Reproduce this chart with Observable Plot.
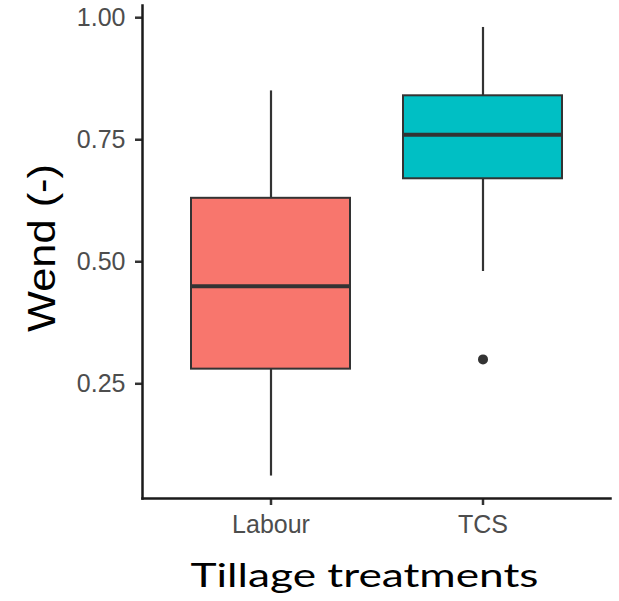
<!DOCTYPE html>
<html>
<head>
<meta charset="utf-8">
<script src="https://cdn.jsdelivr.net/npm/d3@7"></script>
<script src="https://cdn.jsdelivr.net/npm/@observablehq/plot@0.6"></script>
<style>
  html, body { margin: 0; padding: 0; background: white; }
</style>
</head>
<body>
<div id="chart"></div>
<script>
// Data
const categories = ["Labour", "TCS"];
const whiskerLow = [0.061, 0.48];
const q1 = [0.28, 0.67];
const median = [0.45, 0.76];
const q3 = [0.63, 0.84];
const whiskerHigh = [0.85, 0.98];
const boxFills = ["#F8766D", "#00BFC4"];
const outlierCategory = ["TCS"];
const outlierValue = [0.30];
const yTicks = [0.25, 0.50, 0.75, 1.00];
const yTitle = "Wend (-)";
const xTitle = "Tillage treatments";

const stats = categories.map((c, i) => ({
  cat: c, lo: whiskerLow[i], q1: q1[i], med: median[i], q3: q3[i], hi: whiskerHigh[i]
}));
const outliers = outlierCategory.map((c, i) => ({cat: c, value: outlierValue[i]}));

const boxStroke = "#333333";

const chart = Plot.plot({
  width: 619,
  height: 601,
  marginLeft: 142,
  marginRight: 9,
  marginTop: 5,
  marginBottom: 103,
  style: {fontFamily: "Liberation Sans, Arial, sans-serif", fontSize: "25px", background: "white"},
  x: {domain: categories, paddingInner: 0.25, paddingOuter: 0.228, label: null},
  y: {domain: [0.015, 1.025], label: null},
  color: {domain: categories, range: boxFills},
  marks: [
    Plot.ruleX(stats, {x: "cat", y1: "lo", y2: "q1", stroke: boxStroke, strokeWidth: 2.2}),
    Plot.ruleX(stats, {x: "cat", y1: "q3", y2: "hi", stroke: boxStroke, strokeWidth: 2.2}),
    Plot.barY(stats, {x: "cat", y1: "q1", y2: "q3", fill: "cat", stroke: boxStroke, strokeWidth: 2}),
    Plot.tickY(stats, {x: "cat", y: "med", stroke: boxStroke, strokeWidth: 4}),
    Plot.dot(outliers, {x: "cat", y: "value", r: 5, fill: boxStroke, stroke: null}),
    Plot.axisY({ticks: yTicks, tickFormat: d3.format(".2f"), tickSize: 7, tickPadding: 10,
      stroke: "#333", strokeWidth: 2.5, fill: "#4d4d4d", fontSize: 25, label: null}),
    Plot.axisX({tickSize: 7, tickPadding: 10, stroke: "#333", strokeWidth: 2.5,
      fill: "#4d4d4d", fontSize: 25, label: null}),
    Plot.frame({anchor: "left", stroke: "#1a1a1a", strokeWidth: 2.5}),
    Plot.frame({anchor: "bottom", stroke: "#1a1a1a", strokeWidth: 2.5}),
    Plot.text([yTitle], {frameAnchor: "left", rotate: -90, dx: -88, dy: 80, lineAnchor: "bottom",
      textAnchor: "start", fontSize: 38, fontFamily: "Liberation Sans, Arial, sans-serif", fill: "black"}),
    Plot.text([xTitle], {frameAnchor: "bottom", dx: -12, dy: 88, lineAnchor: "bottom",
      fontSize: 33, fontFamily: "Lato, sans-serif", fill: "black"})
  ]
});

// stretch the axis titles to the reference's measured lengths
chart.querySelectorAll("text").forEach(t => {
  if (t.textContent === xTitle) { t.setAttribute("textLength", 348); t.setAttribute("lengthAdjust", "spacingAndGlyphs"); }
  if (t.textContent === yTitle) { t.setAttribute("textLength", 168); t.setAttribute("lengthAdjust", "spacingAndGlyphs"); }
});

document.getElementById("chart").appendChild(chart);
</script>
</body>
</html>
